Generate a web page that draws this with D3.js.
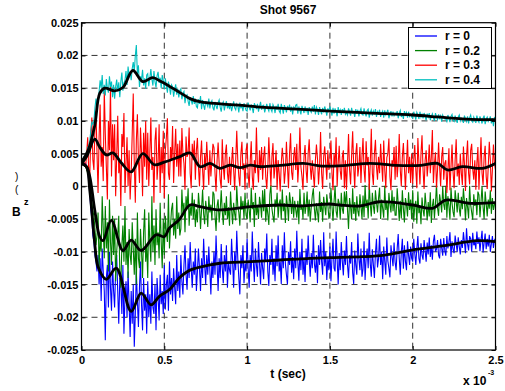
<!DOCTYPE html>
<html>
<head>
<meta charset="utf-8">
<script src="https://cdn.jsdelivr.net/npm/d3@7"></script>
<style>
  body { margin: 0; background: #fff; }
  svg { display: block; font-family: "Liberation Sans", Arial, Helvetica, sans-serif; }
</style>
</head>
<body>
<svg id="chart" width="505" height="391"></svg>
<script>
// Time is in units of 1e-3 s, field values in units of 1e-3 (axis labels rescale them).
const sampleStep = 0.00625;
const seriesNames = ["r = 0", "r = 0.2", "r = 0.3", "r = 0.4"];
const seriesColors = ["#0000ff", "#008000", "#ff0000", "#00bfbf"];
const xTicks = [0, 0.5, 1, 1.5, 2, 2.5];
const yTicks = [-25, -20, -15, -10, -5, 0, 5, 10, 15, 20, 25];

// Raw probe signals, one sample every sampleStep (16 samples per row)
const rawR0 = [
  3.4, 3.5, 3.7, 3.3, 3.5, 3.1, 2.4, 0.8, -1.0, -3.5, -5.0, -7.5, -8.5, -10.5, -11.5, -13.0,
  -10.5, -15.0, -11.0, -17.5, -9.5, -13.0, -16.0, -23.5, -14.0, -12.0, -18.5, -10.0, -15.5, -19.0, -11.5, -16.0,
  -18.5, -12.5, -10.5, -16.0, -21.0, -14.0, -15.0, -19.5, -12.0, -22.5, -17.0, -14.5, -20.0, -13.0, -18.0, -23.0,
  -16.0, -21.0, -15.0, -24.5, -19.5, -13.0, -17.5, -21.5, -15.5, -11.5, -18.0, -22.0, -14.0, -19.0, -16.5, -22.5,
  -14.5, -20.0, -16.5, -21.0, -13.0, -18.5, -19.5, -15.0, -22.0, -14.0, -17.0, -20.5, -13.5, -18.0, -16.0, -19.5,
  -12.0, -18.8, -15.0, -13.5, -19.0, -11.5, -16.5, -14.0, -17.5, -12.5, -15.5, -18.0, -10.5, -16.0, -13.0, -17.0,
  -10.5, -14.5, -16.5, -12.0, -9.0, -13.5, -15.8, -11.0, -14.0, -8.5, -12.5, -15.5, -11.5, -13.5, -9.5, -16.0,
  -13.0, -9.5, -12.5, -16.0, -11.0, -14.0, -8.0, -12.0, -15.0, -10.5, -13.5, -9.2, -12.8, -16.5, -11.5, -14.0,
  -10.0, -13.5, -7.5, -12.0, -16.0, -11.0, -14.0, -8.8, -12.5, -14.8, -10.5, -13.0, -9.0, -15.5, -11.5, -12.8,
  -13.5, -8.0, -11.5, -15.5, -10.0, -12.8, -6.8, -11.0, -14.0, -16.5, -10.5, -12.5, -9.0, -14.8, -11.8, -13.0,
  -8.0, -12.5, -15.5, -10.5, -13.0, -6.9, -11.5, -14.6, -9.5, -12.0, -13.8, -8.5, -11.8, -15.0, -10.2, -12.5,
  -14.2, -9.5, -11.5, -7.2, -13.0, -15.2, -10.5, -12.0, -8.0, -13.5, -11.0, -14.5, -9.0, -12.2, -7.5, -13.0,
  -11.5, -14.9, -9.0, -12.5, -7.0, -11.8, -13.5, -15.0, -10.0, -12.0, -8.4, -13.2, -10.8, -14.2, -9.5, -12.5,
  -6.8, -11.5, -14.4, -10.0, -12.8, -8.0, -13.5, -11.0, -14.6, -9.5, -12.0, -7.5, -11.2, -13.8, -10.2, -12.5,
  -7.4, -11.8, -13.2, -10.5, -14.8, -9.0, -12.0, -8.2, -11.5, -13.5, -7.0, -12.2, -10.0, -14.3, -11.0, -12.8,
  -9.2, -14.5, -11.0, -8.0, -12.5, -13.0, -6.9, -11.2, -15.0, -10.2, -12.8, -8.5, -11.5, -13.6, -9.8, -12.0,
  -7.6, -12.0, -14.0, -10.5, -11.8, -8.5, -13.2, -14.9, -9.8, -12.0, -13.5, -7.2, -11.0, -12.8, -9.5, -13.8,
  -12.6, -8.4, -14.3, -11.0, -9.5, -12.5, -7.1, -11.8, -13.8, -9.6, -12.0, -14.0, -10.2, -8.0, -12.4, -11.0,
  -7.5, -12.0, -10.0, -14.2, -9.2, -11.5, -13.5, -7.8, -11.4, -12.5, -13.9, -9.0, -10.8, -12.2, -8.6, -11.6,
  -12.8, -9.5, -7.3, -11.0, -13.5, -10.0, -8.0, -12.6, -9.0, -11.5, -12.8, -8.4, -10.5, -12.0, -9.2, -11.0,
  -11.5, -8.0, -10.2, -12.0, -9.5, -7.6, -11.0, -11.8, -8.7, -10.5, -11.2, -8.2, -9.8, -11.5, -8.6, -10.4,
  -7.8, -10.8, -9.0, -11.2, -8.4, -7.4, -10.0, -9.6, -8.2, -10.5, -11.0, -8.0, -9.4, -10.6, -7.9, -9.8,
  -10.6, -7.6, -9.5, -8.5, -7.0, -10.8, -8.4, -9.6, -10.2, -7.5, -8.8, -10.0, -7.8, -9.2, -10.4, -8.2,
  -9.4, -7.0, -8.6, -10.2, -6.4, -8.8, -9.8, -7.6, -8.0, -10.0, -7.1, -9.0, -8.4, -9.6, -6.9, -8.8,
  -7.8, -9.9, -8.2, -6.8, -10.1, -8.6, -7.2, -9.6, -8.0, -9.2, -7.4, -10.0, -8.8, -7.6, -9.4, -8.2,
  -8.5
];
const rawR02 = [
  3.4, 3.6, 3.7, 3.3, 3.0, 2.6, 2.0, 3.0, 1.2, -1.0, -2.5, -3.8, -4.5, -6.5, -9.0, -7.5,
  -4.0, -12.5, -8.0, -10.0, -1.5, -6.5, -11.0, -3.0, -9.5, -5.5, -13.0, -2.0, -8.5, -12.0, -4.5, -10.5,
  -5.0, -14.5, -10.0, -7.5, -4.5, -13.0, -15.5, -9.0, -6.0, -11.5, -3.0, -12.0, -8.5, -14.0, -6.5, -10.5,
  -12.0, -5.5, -9.5, -13.5, -8.0, -15.0, -4.0, -11.0, -12.5, -6.5, -10.0, -14.0, -7.0, -3.5, -11.5, -9.0,
  -14.0, -4.0, -8.5, -11.5, -1.5, -10.0, -6.0, -12.0, -3.5, -9.0, -7.0, -11.0, -2.5, -8.5, -12.5, -5.0,
  -10.5, -4.5, -7.0, -8.5, -1.2, -9.5, -6.0, -3.5, -2.5, -7.5, -5.0, -8.0, -1.5, -6.5, -4.0, -7.5,
  -6.5, -0.5, -4.0, -2.5, -7.0, -1.5, -3.5, -0.3, -6.0, -3.0, -4.5, -1.0, -5.0, -2.0, -6.2, -3.5,
  -5.5, -1.0, -3.0, -6.5, -3.5, -0.5, -4.2, -5.8, -2.2, -3.8, -6.2, -1.5, -4.0, -2.8, -5.2, -0.8,
  -1.2, -4.5, -6.8, -3.0, -2.0, -5.5, -3.6, -0.6, -3.8, -5.9, -2.5, -4.4, -1.5, -5.0, -3.2, -6.0,
  -0.8, -3.5, -5.8, -2.5, -4.2, -5.2, 0.0, -3.0, -4.0, -6.0, -1.5, -3.6, -2.2, -5.0, -1.0, -4.4,
  -5.0, -2.0, -3.6, -5.5, -0.2, -3.5, -2.4, -6.2, -1.0, -4.4, -3.0, -5.0, -1.6, -2.8, -4.8, -0.6,
  -3.8, -0.4, -5.4, -2.8, -4.2, -5.9, -1.2, 0.2, -3.4, -4.6, -5.5, -2.0, -3.2, -1.0, -4.8, -2.6,
  -2.0, -5.1, -0.5, -3.8, -2.6, -5.6, -1.4, -3.0, -5.3, -0.9, -2.4, -4.2, -1.6, -4.8, -2.2, -3.6,
  -4.8, -2.2, -5.8, -0.4, -3.6, -2.8, -5.0, -1.0, -4.2, -3.0, -0.8, -4.6, -2.0, -5.4, -3.2, -1.4,
  -0.3, -3.4, -5.2, -2.6, -4.0, -5.5, -0.8, -3.9, -2.4, -5.4, -1.6, -3.0, -4.4, -1.2, -2.8, -4.8,
  -4.5, -0.2, -3.0, -5.3, -2.4, 0.1, -3.8, -4.8, -1.9, -2.6, -5.1, -1.0, -3.4, -4.2, -0.8, -3.0,
  -0.7, -3.6, -6.5, -1.8, -3.2, -5.0, -0.3, -4.2, -2.4, -5.3, -1.5, -3.8, -4.6, -1.2, -3.0, -5.0,
  -1.4, -4.7, 0.2, -3.3, -2.0, -4.9, 0.4, -2.7, -4.6, -1.0, -3.0, -4.2, -0.6, -2.4, -4.0, -1.8,
  -0.2, -5.0, -2.0, -3.4, -4.8, 0.1, -3.6, -2.2, -5.2, -1.0, -2.8, -4.0, -0.6, -3.8, -1.6, -4.4,
  -4.4, -0.3, -2.6, -5.3, -2.2, -4.9, -0.6, -3.4, -5.5, -1.8, -2.8, -4.6, -0.9, -3.6, -2.0, -5.0,
  -0.6, -5.4, -3.0, -2.2, -5.7, -0.8, -4.1, -3.2, -5.8, -1.7, -3.6, -4.6, -1.0, -3.0, -5.2, -2.4,
  -4.6, -0.9, -5.6, -3.0, -1.9, -4.9, -2.6, 0.3, -3.3, -4.5, -1.2, -2.4, -4.0, 0.0, -2.8, -3.6,
  0.1, -4.8, -1.5, -3.0, -5.1, -0.2, -2.6, -3.9, -4.7, -0.6, -2.2, -4.0, -1.0, -3.4, -4.6, -1.6,
  -3.5, -0.3, -2.4, -5.2, -1.8, -3.2, -4.9, 0.1, -2.8, -4.0, -5.1, -1.2, -3.0, -2.0, -4.4, -0.8,
  -1.3, -4.7, -2.4, 0.0, -3.2, -5.0, -0.8, -2.6, -4.6, -2.0, -3.4, -0.6, -4.2, -1.8, -3.6, -2.8,
  -2.3
];
const rawR03 = [
  3.3, 3.6, 4.1, 3.2, 3.0, 5.0, 7.5, 2.0, 1.5, 8.0, 10.5, 4.0, 2.5, 9.0, 11.5, 5.0,
  -1.0, 7.5, 12.5, 3.0, 6.0, 0.8, 14.8, 8.0, 3.0, -2.0, 10.0, 5.5, 15.3, 1.5, 9.5, 4.0,
  9.5, -1.5, 4.5, 10.8, 2.0, 4.0, -3.0, 8.0, 6.0, 11.2, -1.0, 3.5, 7.5, 0.0, 5.5, -2.0,
  2.0, 8.0, 14.2, 3.5, -2.5, 7.0, 11.0, 4.0, 0.5, 9.0, 5.0, -1.5, 8.2, 3.0, 10.0, 1.0,
  8.2, 0.0, 5.0, 10.5, 2.5, 4.5, -2.5, 7.0, 9.0, 1.0, 3.5, 9.5, -1.0, 6.0, 2.0, 8.5,
  -1.8, 5.5, 7.5, 10.4, 2.0, 1.0, 6.0, 4.0, 9.2, 0.5, 5.0, 8.8, 3.0, 6.5, 1.5, 7.0,
  1.5, 8.9, 5.0, 3.5, -0.5, 7.6, 4.5, 5.0, 9.0, 2.0, -0.3, 6.5, 4.0, 7.0, 1.0, 5.5,
  7.4, 3.0, 0.0, 4.5, 7.0, 2.5, -0.5, 5.0, 2.5, 6.8, 3.5, 0.2, 5.5, 1.5, 4.0, 6.5,
  5.9, 2.0, -0.8, 4.0, 6.7, 3.5, 1.0, -0.3, 7.2, 3.0, 1.0, 5.0, 6.4, 2.0, 0.5, 4.5,
  0.2, 3.5, 6.0, 2.5, -0.6, 4.0, 8.5, 4.0, 1.5, 0.0, 5.0, 6.8, 2.5, 3.5, -0.5, 5.5,
  6.5, 2.0, -0.2, 3.8, 6.9, 1.5, -0.5, 4.0, 2.0, 9.0, 3.0, 0.6, 5.5, 2.5, 6.0, 1.0,
  4.5, 6.1, 1.5, -0.4, 2.8, 7.5, 3.5, 0.0, 4.5, 6.6, 1.2, 3.0, 5.5, -0.5, 4.0, 2.0,
  -0.8, 3.5, 5.9, 4.0, 0.4, 2.5, 6.8, 3.0, -0.3, 5.0, 8.1, 2.2, 1.0, 4.5, 6.0, 2.5,
  6.5, 0.6, 3.5, 9.0, 3.0, 1.5, -0.5, 4.5, 6.3, 2.5, 0.5, 5.0, 7.2, 3.0, 1.0, 4.0,
  1.8, -0.2, 4.0, 6.4, 4.2, 0.3, 3.0, 8.3, 2.0, -0.4, 4.5, 6.1, 3.5, 1.0, 5.5, 2.5,
  3.6, 7.0, 2.0, -0.6, 5.0, 3.0, 7.5, 0.0, 3.5, 6.2, 2.4, 1.0, 4.5, 5.5, -0.3, 4.0,
  -0.5, 3.5, 8.0, 2.5, 0.3, 4.8, 8.4, 3.0, -0.3, 5.0, 6.6, 1.5, 3.0, 6.0, 0.5, 4.5,
  7.4, 2.5, 0.6, 6.9, 3.2, 4.5, -0.5, 3.5, 8.8, 2.0, 0.2, 5.0, 7.1, 3.0, 1.0, 4.5,
  2.0, 6.5, 3.5, 0.7, 7.0, 2.5, -0.3, 4.4, 5.0, 7.3, 1.5, -0.6, 4.0, 3.0, 6.0, 1.0,
  6.2, 1.4, 3.5, 8.0, 2.5, 0.0, 4.5, 6.6, 2.8, -0.5, 3.5, 7.1, 2.0, 4.5, 0.5, 5.0,
  0.4, 4.0, 6.3, 2.5, -0.3, 7.4, 3.6, 0.3, 5.0, 7.8, 2.5, -0.4, 4.0, 5.5, 1.5, 3.5,
  6.4, 2.0, 4.5, 8.6, 0.5, 3.5, 5.2, -0.2, 2.5, 6.7, 3.0, 0.0, 4.5, 6.0, 1.0, 3.5,
  4.0, -1.0, 2.5, 5.8, -0.6, 3.0, 6.4, 2.2, -0.3, 4.0, 7.2, 1.5, 3.5, 0.2, 5.0, 2.0,
  0.2, 6.1, 3.4, -0.7, 4.5, 7.0, 2.0, 0.3, 5.5, 6.5, 2.6, 1.0, 4.0, -0.5, 3.5, 6.0,
  -0.5, 3.5, 7.5, 2.0, 0.2, 4.5, 6.2, 1.5, -0.4, 3.0, 6.8, 4.0, -0.8, 2.5, 6.4, 3.5,
  2.5
];
const rawR04 = [
  3.6, 3.8, 4.4, 3.9, 4.2, 4.8, 5.9, 6.2, 7.0, 8.5, 9.8, 9.5, 10.0, 12.0, 13.4, 12.6,
  12.8, 14.5, 16.2, 15.0, 17.0, 14.1, 15.5, 13.9, 16.4, 15.0, 14.3, 16.8, 15.2, 16.0, 13.6, 15.5,
  13.4, 15.2, 16.3, 14.5, 15.9, 13.6, 16.0, 17.4, 14.6, 15.8, 16.2, 17.6, 15.5, 18.3, 16.8, 17.5,
  16.2, 18.0, 19.0, 17.5, 20.0, 21.6, 17.1, 18.5, 15.2, 16.8, 16.3, 17.8, 15.4, 16.5, 14.9, 17.0,
  17.2, 15.3, 16.5, 17.9, 16.4, 15.4, 17.6, 16.0, 15.1, 16.9, 17.5, 15.8, 16.6, 15.0, 17.0, 16.2,
  14.8, 16.5, 15.4, 14.3, 16.0, 15.2, 14.0, 15.5, 15.2, 13.7, 14.8, 15.6, 14.0, 14.9, 13.6, 14.6,
  14.9, 13.3, 14.2, 14.5, 12.7, 13.8, 14.0, 13.0, 12.3, 13.6, 13.2, 12.5, 13.8, 12.6, 13.4, 12.2,
  12.0, 13.3, 12.6, 13.8, 11.8, 13.2, 12.4, 11.7, 13.0, 12.6, 12.2, 13.4, 11.9, 12.8, 13.1, 12.0,
  11.6, 12.9, 12.3, 11.8, 12.8, 13.2, 12.1, 11.4, 12.6, 12.9, 11.6, 12.4, 13.0, 11.9, 12.5, 11.8,
  12.7, 11.5, 12.2, 13.0, 12.0, 11.7, 12.6, 12.3, 11.3, 12.8, 11.9, 12.4, 11.5, 12.7, 12.1, 11.6,
  11.5, 12.8, 12.1, 11.6, 12.5, 12.0, 11.2, 12.7, 12.3, 11.8, 12.6, 11.4, 12.2, 12.9, 11.7, 12.3,
  12.4, 11.3, 12.0, 12.6, 11.9, 11.5, 12.7, 11.8, 11.4, 12.5, 12.1, 11.2, 12.3, 11.7, 12.6, 11.5,
  11.2, 12.6, 11.9, 11.1, 12.4, 12.0, 11.3, 12.3, 11.7, 12.5, 11.4, 12.2, 11.0, 12.1, 11.8, 12.4,
  12.5, 11.1, 12.2, 11.6, 11.0, 12.3, 11.8, 11.2, 12.2, 11.5, 12.0, 10.9, 12.1, 11.6, 11.3, 12.2,
  11.4, 12.4, 11.0, 12.1, 11.7, 10.9, 12.1, 11.5, 11.0, 12.0, 11.3, 12.2, 11.6, 10.8, 11.9, 11.4,
  12.2, 11.5, 10.8, 12.0, 11.1, 11.9, 11.4, 10.7, 12.1, 11.3, 11.7, 10.9, 11.8, 11.2, 12.0, 11.0,
  11.3, 10.9, 11.9, 11.4, 10.8, 12.0, 11.2, 11.4, 10.6, 11.8, 11.1, 11.7, 10.7, 11.5, 11.9, 11.0,
  10.9, 11.9, 11.2, 10.7, 11.6, 11.8, 10.5, 11.3, 11.7, 10.8, 11.5, 11.0, 11.8, 10.6, 11.4, 11.1,
  11.7, 10.6, 11.2, 11.5, 10.5, 11.6, 10.9, 11.3, 11.7, 10.4, 11.0, 11.5, 10.7, 11.4, 10.8, 11.2,
  11.0, 11.5, 10.4, 11.2, 11.6, 10.6, 11.1, 10.3, 11.5, 10.9, 11.3, 10.5, 11.4, 10.7, 11.0, 10.6,
  10.4, 11.4, 10.8, 10.2, 11.3, 10.9, 10.3, 11.4, 10.6, 11.0, 10.4, 11.2, 10.7, 10.1, 11.1, 10.6,
  11.2, 10.1, 10.7, 11.1, 10.5, 10.0, 11.2, 10.6, 10.2, 11.0, 10.4, 10.8, 9.9, 10.9, 10.5, 10.3,
  10.3, 9.9, 10.9, 10.4, 9.8, 10.7, 11.0, 10.1, 9.9, 10.8, 10.3, 9.7, 10.6, 10.9, 10.0, 10.4,
  10.2, 9.7, 10.8, 10.3, 9.9, 10.7, 9.6, 10.5, 10.9, 10.0, 9.8, 10.6, 10.2, 9.7, 10.8, 10.1,
  9.8, 10.7, 10.2, 9.6, 10.4, 10.8, 9.5, 10.3, 10.6, 9.9, 10.2, 10.7, 9.6, 10.4, 9.2, 10.6,
  9.9
];

// Smoothed traces as [time, value] pairs
const smoothR0 = [[0,3.5],[0.03,3.0],[0.05,-0.6],[0.08,-8.7],[0.10,-12.3],[0.15,-14.2],[0.21,-12.5],
  [0.30,-19.1],[0.36,-16.3],[0.42,-18.1],[0.47,-16.8],[0.53,-15.8],[0.59,-14.0],[0.655,-12.8],
  [0.776,-12.0],[0.836,-11.75],[1.02,-11.5],[1.2,-11.25],[1.38,-11.0],[1.5,-10.9],[1.7,-10.75],
  [1.83,-10.5],[2.0,-9.7],[2.18,-9.1],[2.39,-8.3],[2.5,-8.45]];
const smoothR02 = [[0,3.5],[0.03,3.0],[0.05,1.5],[0.08,-3.6],[0.11,-7.7],[0.13,-8.3],[0.18,-5.2],
  [0.25,-9.8],[0.30,-8.2],[0.36,-9.8],[0.45,-7.4],[0.50,-7.7],[0.53,-6.4],[0.59,-5.1],[0.655,-2.85],
  [0.716,-3.1],[0.836,-3.6],[1.02,-3.1],[1.2,-2.85],[1.32,-3.0],[1.5,-2.7],[1.56,-2.85],[1.68,-3.0],
  [1.80,-2.35],[2.0,-2.85],[2.12,-3.35],[2.2,-2.1],[2.35,-2.6],[2.5,-2.5]];
const smoothR03 = [[0,3.5],[0.03,4.5],[0.08,7.2],[0.11,6.0],[0.15,4.8],[0.19,5.1],[0.24,3.6],
  [0.30,2.2],[0.37,5.0],[0.44,3.3],[0.50,3.7],[0.59,4.5],[0.655,5.1],[0.716,3.0],[0.776,3.5],
  [0.836,2.75],[0.897,3.25],[0.957,2.85],[1.02,3.25],[1.08,3.0],[1.2,3.2],[1.34,3.5],[1.45,3.1],
  [1.6,3.2],[1.74,3.5],[1.9,3.2],[2.05,3.2],[2.15,3.5],[2.21,2.5],[2.3,3.0],[2.42,2.75],[2.5,3.5]];
const smoothR04 = [[0,3.7],[0.04,5.5],[0.08,9.3],[0.11,14.2],[0.14,15.0],[0.2,14.6],[0.25,15.1],
  [0.31,17.7],[0.37,16.0],[0.43,16.6],[0.48,16.0],[0.53,15.3],[0.59,14.4],[0.655,13.4],[0.72,12.9],
  [0.84,12.6],[1.0,12.3],[1.08,12.1],[1.3,11.8],[1.5,11.5],[1.75,11.2],[2.0,10.9],[2.15,10.6],
  [2.3,10.3],[2.4,10.2],[2.5,10.2]];

const rawSeries = [rawR0, rawR02, rawR03, rawR04];
const smoothSeries = [smoothR0, smoothR02, smoothR03, smoothR04];

const W = 505, H = 391;
const plot = { left: 81.5, right: 495.5, top: 22.7, bottom: 350 };

const svg = d3.select("#chart");
svg.append("rect").attr("width", W).attr("height", H).attr("fill", "#fff");

const x = d3.scaleLinear().domain([0, 2.5]).range([plot.left, plot.right]);
const y = d3.scaleLinear().domain([-25, 25]).range([plot.bottom, plot.top]);

svg.append("defs").append("clipPath").attr("id", "plotClip")
  .append("rect")
  .attr("x", plot.left).attr("y", plot.top)
  .attr("width", plot.right - plot.left).attr("height", plot.bottom - plot.top);

// Dashed grid
const grid = svg.append("g").attr("stroke", "#333").attr("stroke-width", 1).attr("stroke-dasharray", "6,4");
grid.selectAll("line.v").data(xTicks.slice(1, -1)).join("line")
  .attr("x1", d => x(d)).attr("x2", d => x(d))
  .attr("y1", plot.top).attr("y2", plot.bottom);
grid.selectAll("line.h").data(yTicks.slice(1, -1)).join("line")
  .attr("x1", plot.left).attr("x2", plot.right)
  .attr("y1", d => y(d)).attr("y2", d => y(d));

// Signal traces
const traces = svg.append("g").attr("clip-path", "url(#plotClip)");
const rawLine = d3.line().x((d, i) => x(i * sampleStep)).y(d => y(d));
rawSeries.forEach((vals, k) => {
  traces.append("path").datum(vals)
    .attr("d", rawLine)
    .attr("fill", "none")
    .attr("stroke", seriesColors[k])
    .attr("stroke-width", 1.1)
    .attr("stroke-linejoin", "miter");
});
const smoothLine = d3.line().x(d => x(d[0])).y(d => y(d[1])).curve(d3.curveCatmullRom.alpha(0.5));
smoothSeries.forEach(pts => {
  traces.append("path").datum(pts)
    .attr("d", smoothLine)
    .attr("fill", "none")
    .attr("stroke", "#000")
    .attr("stroke-width", 2.8)
    .attr("stroke-linejoin", "round")
    .attr("stroke-linecap", "round");
});

// Axes with inward ticks
const tickFmt = v => String(+(v / 1000).toFixed(3));
const fontCss = "font-size:11px;font-weight:bold;font-family:'Liberation Sans',Arial,sans-serif";

const yAxis = svg.append("g").attr("transform", `translate(${plot.left},0)`)
  .call(d3.axisLeft(y).tickValues(yTicks).tickSize(-4).tickPadding(3).tickFormat(tickFmt));
const yAxisR = svg.append("g").attr("transform", `translate(${plot.right},0)`)
  .call(d3.axisRight(y).tickValues(yTicks).tickSize(-4).tickFormat(""));
const xAxis = svg.append("g").attr("transform", `translate(0,${plot.bottom})`)
  .call(d3.axisBottom(x).tickValues(xTicks).tickSize(-4).tickPadding(6).tickFormat(d => String(d)));
const xAxisT = svg.append("g").attr("transform", `translate(0,${plot.top})`)
  .call(d3.axisTop(x).tickValues(xTicks).tickSize(-4).tickFormat(""));

[yAxis, yAxisR, xAxis, xAxisT].forEach(g => {
  g.select(".domain").remove();
  g.selectAll(".tick line").attr("stroke", "#000");
  g.selectAll("text").attr("fill", "#000").attr("style", fontCss);
});

// Axes box
svg.append("rect")
  .attr("x", plot.left).attr("y", plot.top)
  .attr("width", plot.right - plot.left).attr("height", plot.bottom - plot.top)
  .attr("fill", "none").attr("stroke", "#000").attr("stroke-width", 1.2);

// Title and axis labels
const labels = svg.append("g").attr("font-weight", "bold").attr("fill", "#000");
labels.append("text").attr("x", 288).attr("y", 14).attr("text-anchor", "middle")
  .attr("font-size", 12).text("Shot 9567");
labels.append("text").attr("x", 288).attr("y", 378).attr("text-anchor", "middle")
  .attr("font-size", 12).text("t (sec)");
labels.append("text").attr("x", 463).attr("y", 385).attr("font-size", 12).text("x 10");
labels.append("text").attr("x", 488).attr("y", 375).attr("font-size", 7).text("-3");

// Y label
labels.append("text").attr("x", 15).attr("y", 180).attr("font-size", 10).attr("font-weight", "normal").text(")");
labels.append("text").attr("x", 15).attr("y", 193).attr("font-size", 10).attr("font-weight", "normal").text("(");
labels.append("text").attr("x", 12).attr("y", 216).attr("font-size", 12).text("B");
labels.append("text").attr("x", 24).attr("y", 205).attr("font-size", 9).text("z");

// Legend
const legend = svg.append("g");
legend.append("rect").attr("x", 408.5).attr("y", 27.5).attr("width", 83).attr("height", 61)
  .attr("fill", "#fff").attr("stroke", "#000").attr("stroke-width", 1);
seriesNames.forEach((name, k) => {
  const ly = 36 + k * 14.6;
  legend.append("line").attr("x1", 415).attr("x2", 437).attr("y1", ly).attr("y2", ly)
    .attr("stroke", seriesColors[k]).attr("stroke-width", 1.3);
  legend.append("text").attr("x", 445).attr("y", ly + 4.2)
    .attr("font-size", 12).attr("font-weight", "bold").attr("fill", "#000").text(name);
});
</script>
</body>
</html>
